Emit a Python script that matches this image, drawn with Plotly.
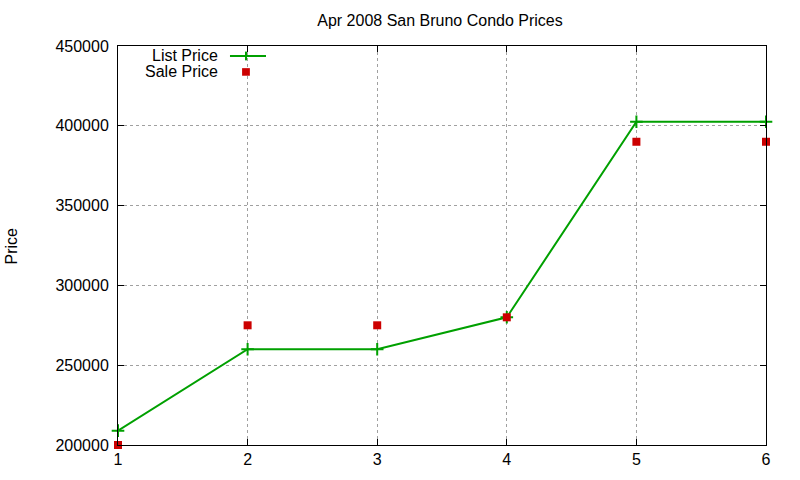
import plotly.graph_objects as go

# Données
units = [1, 2, 3, 4, 5, 6]
list_price = [209000, 260000, 260000, 280000, 402500, 402500]
sale_price = [200000, 275000, 275000, 280000, 390000, 390000]
y_ticks = [200000, 250000, 300000, 350000, 400000, 450000]

GREEN = '#00a000'
RED = '#cc0000'
FONT = 'Liberation Sans, Arial, sans-serif'

fig = go.Figure()

# Prix affiché : ligne + croix
fig.add_trace(go.Scatter(
    x=units, y=list_price, mode='lines+markers', name='List Price',
    line=dict(color=GREEN, width=2),
    marker=dict(symbol='cross-thin', size=9, line=dict(color=GREEN, width=2)),
    cliponaxis=False, showlegend=False
))

# Prix de vente : carrés rouges
fig.add_trace(go.Scatter(
    x=units, y=sale_price, mode='markers', name='Sale Price',
    marker=dict(symbol='square', size=8, color=RED),
    cliponaxis=False, showlegend=False
))

axis_style = dict(
    showline=True, linecolor='black', linewidth=1, mirror='allticks',
    ticks='inside', ticklen=6, tickcolor='black',
    showgrid=True, gridcolor='#a0a0a0', griddash='dot', gridwidth=1,
    zeroline=False, tickfont=dict(family=FONT, size=16, color='black'),
)

fig.update_xaxes(range=[1, 6], tickvals=units, ticklabelstandoff=0, **axis_style)
fig.update_yaxes(range=[200000, 450000], tickvals=y_ticks, tickformat='d',
                 ticklabelstandoff=5, **axis_style)

# Légende façon gnuplot (texte aligné à droite, échantillon à droite)
legend_text_x = 0.1574
sample_x0, sample_x1, sample_xm = 0.1728, 0.2284, 0.1975
row1, row2 = 0.975, 0.935
annotations = [
    dict(text='List Price', x=legend_text_x, y=row1),
    dict(text='Sale Price', x=legend_text_x, y=row2),
]
annotations = [dict(a, xref='paper', yref='paper', xanchor='right', yanchor='middle',
                    showarrow=False, font=dict(family=FONT, size=16, color='black'))
               for a in annotations]
annotations.append(dict(
    text='Price', xref='paper', yref='paper', x=-0.1636, y=0.5, textangle=-90,
    xanchor='center', yanchor='middle',
    showarrow=False, font=dict(family=FONT, size=16, color='black')
))

shapes = [
    dict(type='line', xref='paper', yref='paper', x0=sample_x0, x1=sample_x1,
         y0=row1, y1=row1, line=dict(color=GREEN, width=2)),
    dict(type='line', xref='paper', yref='paper', x0=sample_xm, x1=sample_xm,
         y0=row1 - 0.011, y1=row1 + 0.011, line=dict(color=GREEN, width=2)),
    dict(type='rect', xref='paper', yref='paper', x0=sample_xm - 0.006, x1=sample_xm + 0.006,
         y0=row2 - 0.0095, y1=row2 + 0.0095, line=dict(width=0), fillcolor=RED),
]

fig.update_layout(
    title=dict(text='Apr 2008 San Bruno Condo Prices', x=0.55, xanchor='center',
               y=0.9583, yanchor='middle', font=dict(family=FONT, size=16, color='black')),
    width=800, height=480,
    margin=dict(l=118, r=34, t=46, b=32),
    plot_bgcolor='white', paper_bgcolor='white',
    annotations=annotations, shapes=shapes,
    showlegend=False,
)

# pas de marge de page ni de barre de défilement : la figure remplit juste la fenêtre
page_fix = (
    "document.body.style.margin='0';"
    "document.body.style.overflow='hidden';"
    "document.documentElement.style.overflow='hidden';"
)
fig.write_html("out.html", post_script=page_fix, config={'displayModeBar': False})
